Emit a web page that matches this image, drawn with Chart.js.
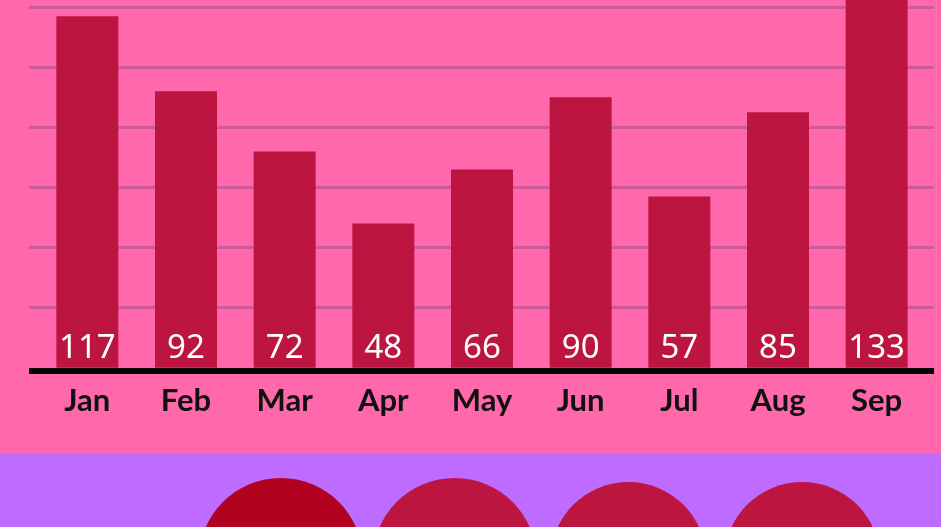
<!DOCTYPE html>
<html>
<head>
<meta charset="utf-8">
<script src="https://cdn.jsdelivr.net/npm/chart.js@4"></script>
<style>
  body { margin: 0; width: 941px; height: 527px; overflow: hidden; position: relative; background: #bd6cff; }
  #top { position: absolute; left: 0; top: 0; width: 941px; height: 453px; background: #ff68ab; overflow: hidden; }
  #bars { position: absolute; left: 0; top: -60px; }
  #bottom { position: absolute; left: 0; top: 453px; width: 941px; height: 214px; }
</style>
</head>
<body>
<div id="top"><canvas id="bars" width="941" height="513"></canvas></div>
<div id="bottom"><canvas id="circles" width="941" height="214"></canvas></div>
<script>
const months = ["Jan", "Feb", "Mar", "Apr", "May", "Jun", "Jul", "Aug", "Sep"];
const values = [117, 92, 72, 48, 66, 90, 57, 85, 133];
const gridValues = [20, 40, 60, 80, 100, 120, 140];
const baseLine = -1;

const circleSlots = [1, 2, 3, 4];
const circleRadii = [82, 82, 78, 78];
const circleColors = ["#b1021f", "#bc1540", "#bc1540", "#bc1540"];

const tickList = [baseLine].concat(gridValues);
const setTicks = s => { s.ticks = tickList.map(v => ({ value: v })); };
const gridColor = c => c.tick && c.tick.value === baseLine ? "#000" : "#cf5a98";
const gridWidth = c => c.tick && c.tick.value === baseLine ? 6 : 3;

// white numbers at the foot of each bar
const valueLabels = {
  id: "valueLabels",
  afterDatasetsDraw(chart) {
    const ctx = chart.ctx;
    ctx.save();
    ctx.font = '33px "Noto Sans"';
    ctx.fillStyle = "#fff";
    ctx.textAlign = "center";
    ctx.textBaseline = "alphabetic";
    chart.getDatasetMeta(0).data.forEach((bar, i) => ctx.fillText(values[i], bar.x, bar.base - 10));
    ctx.restore();
  }
};

new Chart(document.getElementById("bars"), {
  type: "bar",
  data: {
    labels: months,
    datasets: [{ data: values, backgroundColor: "#bc1540", borderWidth: 0, categoryPercentage: 1, barPercentage: 0.628 }]
  },
  options: {
    responsive: false,
    animation: false,
    events: [],
    layout: { padding: { left: 29, right: 7, top: 7, bottom: 21 } },
    plugins: { legend: { display: false }, tooltip: { enabled: false } },
    scales: {
      x: {
        grid: { display: false, drawTicks: false },
        border: { display: false },
        ticks: { color: "#111", padding: 12, maxRotation: 0, font: { family: "Lato", size: 31, weight: "bold" } }
      },
      y: {
        min: baseLine, max: 140,
        afterBuildTicks: setTicks,
        ticks: { display: false },
        border: { display: false },
        grid: { color: gridColor, lineWidth: gridWidth, tickLength: 9 }
      },
      y2: {
        position: "right",
        min: baseLine, max: 140,
        afterBuildTicks: setTicks,
        ticks: { display: false },
        border: { display: false },
        grid: { color: gridColor, lineWidth: gridWidth, tickLength: 8, drawOnChartArea: false }
      }
    }
  },
  plugins: [valueLabels]
});

new Chart(document.getElementById("circles"), {
  type: "bubble",
  data: {
    datasets: [{
      data: circleSlots.map((x, i) => ({ x: x, y: 0, r: circleRadii[i] })),
      backgroundColor: circleColors,
      borderWidth: 0,
      clip: false
    }]
  },
  options: {
    responsive: false,
    animation: false,
    events: [],
    layout: { autoPadding: false, padding: { left: 194, right: 52, top: 0, bottom: 0 } },
    plugins: { legend: { display: false }, tooltip: { enabled: false } },
    scales: {
      x: { type: "linear", min: 0.5, max: 4.5, display: false },
      y: { min: -1, max: 1, display: false }
    }
  }
});
</script>
</body>
</html>
